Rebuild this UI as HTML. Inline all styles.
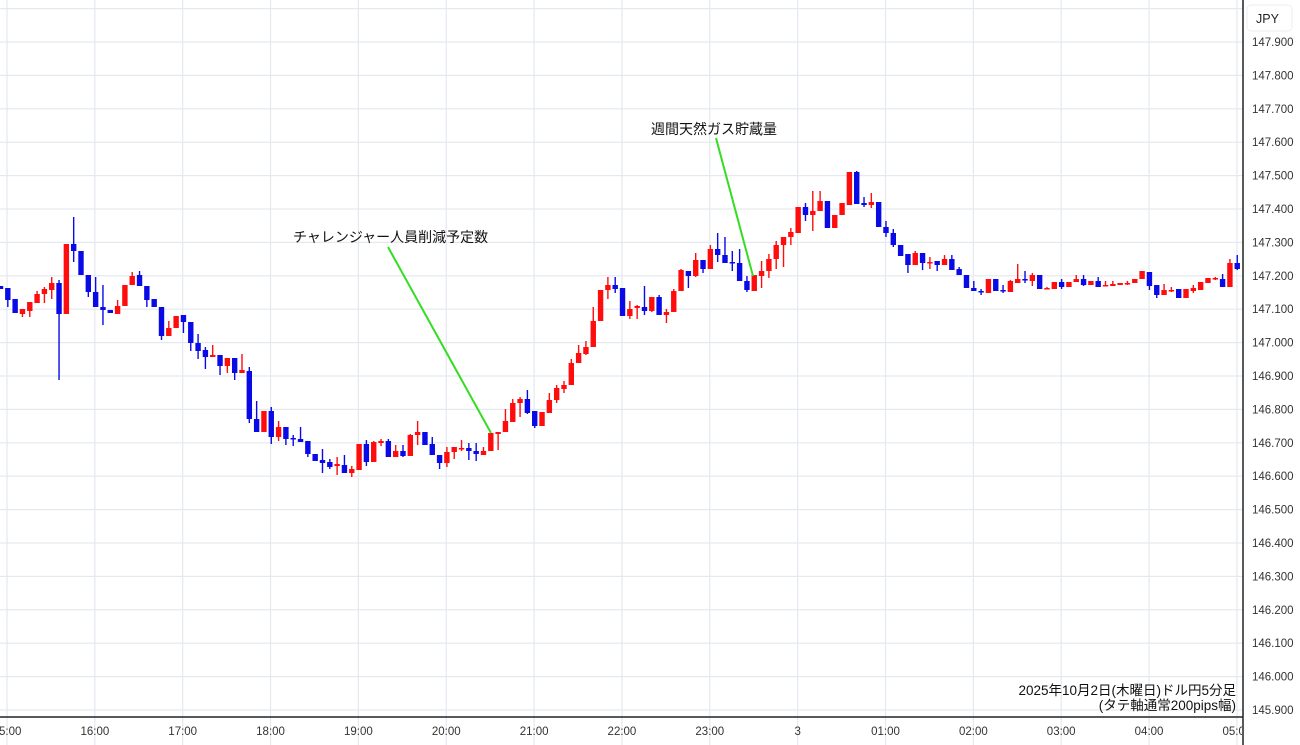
<!DOCTYPE html>
<html><head><meta charset="utf-8"><style>
html,body{margin:0;padding:0;background:#fff;}
svg{display:block;font-family:"Liberation Sans","Noto Sans CJK JP",sans-serif;}
</style></head><body>
<svg id="s" width="1300" height="745" xmlns="http://www.w3.org/2000/svg">
<defs><clipPath id="cp"><rect x="0" y="0" width="1242" height="745"/></clipPath></defs>
<rect width="1300" height="745" fill="#fff"/>
<g id="grid" stroke="#e3e9ef" stroke-width="1.2"></g>
<g id="c"></g>
<line x1="388" y1="247" x2="491" y2="433" stroke="#33dd22" stroke-width="2"/>
<line x1="716" y1="138" x2="753" y2="276" stroke="#33dd22" stroke-width="2"/>
<text x="293" y="242" font-size="14" fill="#111">チャレンジャー人員削減予定数</text>
<text x="651" y="134" font-size="14" fill="#111">週間天然ガス貯蔵量</text>
<text x="1236" y="695" font-size="13.5" fill="#111" text-anchor="end">2025年10月2日(木曜日)ドル円5分足</text>
<text x="1236" y="710" font-size="13.5" fill="#111" text-anchor="end">(タテ軸通常200pips幅)</text>
<rect x="1243" y="717" width="57" height="28" fill="#fff"/>
<line x1="1243" y1="0" x2="1243" y2="745" stroke="#222" stroke-width="1.5"/>
<line x1="0" y1="717" x2="1243" y2="717" stroke="#222" stroke-width="1.5"/>
<rect x="1247" y="5" width="45" height="26" rx="4" fill="#fff" stroke="#eee"/>
<text x="1256" y="23" font-size="12.5" fill="#222">JPY</text>
<g id="yl" font-size="11.5" fill="#333"></g>
<g id="xl" font-size="11.5" fill="#333" clip-path="url(#cp)"></g>
</svg>
<script>
var ns="http://www.w3.org/2000/svg";
function el(p,t,a,txt){var e=document.createElementNS(ns,t);for(var k in a)e.setAttribute(k,a[k]);if(txt)e.textContent=txt;p.appendChild(e);return e;}
var g=document.getElementById('grid'),yl=document.getElementById('yl'),xl=document.getElementById('xl');
for(var k=-1;k<21;k++){var y=42+33.4*k;if(y<0||y>716)continue;el(g,'line',{x1:0,y1:y,x2:1243,y2:y});
var v=(147.9-0.1*k).toFixed(3);if(y>30)el(yl,'text',{x:1252,y:y+4},v);}
var hrs=["15:00","16:00","17:00","18:00","19:00","20:00","21:00","22:00","23:00","3","01:00","02:00","03:00","04:00","05:00"];
for(var h=0;h<hrs.length;h++){var x=7+87.85*h;el(g,'line',{x1:x,y1:0,x2:x,y2:745});
el(xl,'text',{x:x,y:735,'text-anchor':'middle'},hrs[h]);}
var d=[
['b',286,289],['b',288,300,288,307],['b',299,313],['r',309,314,309,317],['r',302,311,302,317],['r',294,303,291,303],['r',289,294,287,303],['r',283,290,277,299],['b',283,314,280,380],['r',244,314],
['b',244,251,217,262],['b',251,275],['b',275,292,275,297],['b',292,307,277,307],['b',307,310,285,325],['b',310,313],['r',306,314,300,314],['r',285,306],['r',276,285,272,285],['b',275,286,271,286],
['b',286,300,286,307],['b',299,307],['b',307,336,307,340],['r',328,336,321,336],['r',316,328],['b',315,322,315,333],['b',322,343,322,351],['b',343,351,334,359],['b',350,357,347,369],['r',355,357,345,357],
['b',355,366,355,375],['r',358,366,358,373],['b',358,373,358,380],['r',370,373,354,373],['b',371,419,367,423],['b',419,432,401,432],['r',411,432],['b',411,437,407,444],['r',427,437,421,441],['b',427,439,427,445],
['b',438,439,435,446],['b',439,442,427,442],['b',441,454,441,457],['b',454,461],['b',460,463,449,473],['b',462,467,459,469],['r',464,466,457,475],['b',465,473,455,473],['r',469,473,466,477],['r',444,470],
['b',444,462,440,466],['r',442,462,441,462],['r',441,443,439,446],['b',441,457,439,457],['r',451,457,445,457],['b',451,456,445,457],['r',435,456,434,456],['r',432,435,421,445],['b',432,445],['b',444,455,437,455],
['b',455,463,455,469],['r',452,463,447,467],['r',447,452,447,459],['r',448,449,440,451],['b',448,451,443,460],['b',451,454,443,461],['r',451,455,447,455],['r',433,451],['r',432,434,432,450],['r',421,432,409,432],
['r',403,422,399,422],['r',399,403,397,417],['b',399,413,390,414],['b',411,426,411,428],['r',412,426],['r',400,413,393,413],['r',388,400,385,403],['r',385,389,381,393],['r',363,385,359,385],['r',353,363,345,363],
['r',347,354,341,355],['r',321,347,307,347],['r',290,321],['r',285,290,277,299],['b',285,289,277,293],['b',288,316],['r',309,316,301,319],['r',306,308,305,319],['b',307,311,286,315],['r',297,311,297,312],
['b',297,315,295,315],['r',312,315,309,323],['r',291,312,289,312],['r',270,291,269,291],['b',271,276,271,288],['r',260,276,253,277],['b',260,269,260,273],['r',249,269,245,269],['b',249,255,233,262],['b',255,263,237,263],
['b',262,263,251,271],['b',263,281,249,281],['b',281,290,276,292],['r',275,291],['r',271,276,261,288],['r',259,271,254,278],['r',245,259,241,269],['r',237,245,237,267],['r',232,237,228,245],['r',207,233],
['b',207,215,203,221],['r',211,215,191,231],['r',201,211,191,211],['b',201,228],['r',215,228],['r',203,215],['r',172,205],['b',172,204,171,204],['b',203,205,197,207],['r',202,205,193,208],
['b',202,227],['b',227,233,221,237],['b',233,245,229,247],['b',245,256],['b',254,265,254,273],['r',253,265,251,265],['b',253,263,253,270],['r',262,263,257,269],['b',261,265,261,271],['r',259,265,255,265],
['b',259,270,255,270],['b',269,275,267,275],['b',275,288],['b',288,291,281,291],['b',291,292,289,295],['r',279,293],['b',279,291],['b',290,291,285,293],['r',281,292,280,292],['r',279,283,264,283],
['b',279,280,271,283],['r',275,281,273,286],['b',275,289],['r',288,289,287,289],['r',282,289],['b',282,287,279,289],['r',282,287],['r',279,282,275,282],['b',279,285,275,286],['r',281,285],
['b',281,287,277,287],['r',285,286,281,286],['r',284,286,281,286],['r',283,285],['r',283,284,281,285],['r',279,283],['r',271,279],['b',272,286,272,290],['b',285,295,285,298],['r',290,295,284,295],
['r',290,291,287,292],['b',289,298],['r',289,298],['r',288,291,285,293],['r',282,290],['r',278,283],['r',278,279,277,280],['b',279,287,274,287],['r',263,287,259,287],['b',263,269,255,270]
];
var c=document.getElementById('c');
for(var i=0;i<d.length;i++){var q=d[i],x=0.5+i*7.318,col=q[0]=='r'?'#ff0d0d':'#0a0ae6';
var wt=q.length>3?q[3]:q[1],wb=q.length>4?q[4]:q[2];
if(x>1241)continue;
el(c,'line',{x1:x,y1:wt,x2:x,y2:wb,stroke:col,'stroke-width':1.4});
var bh=Math.max(q[2]-q[1],1.5);el(c,'rect',{x:x-2.7,y:q[1],width:5.4,height:bh,fill:col});}
</script>
</body></html>
